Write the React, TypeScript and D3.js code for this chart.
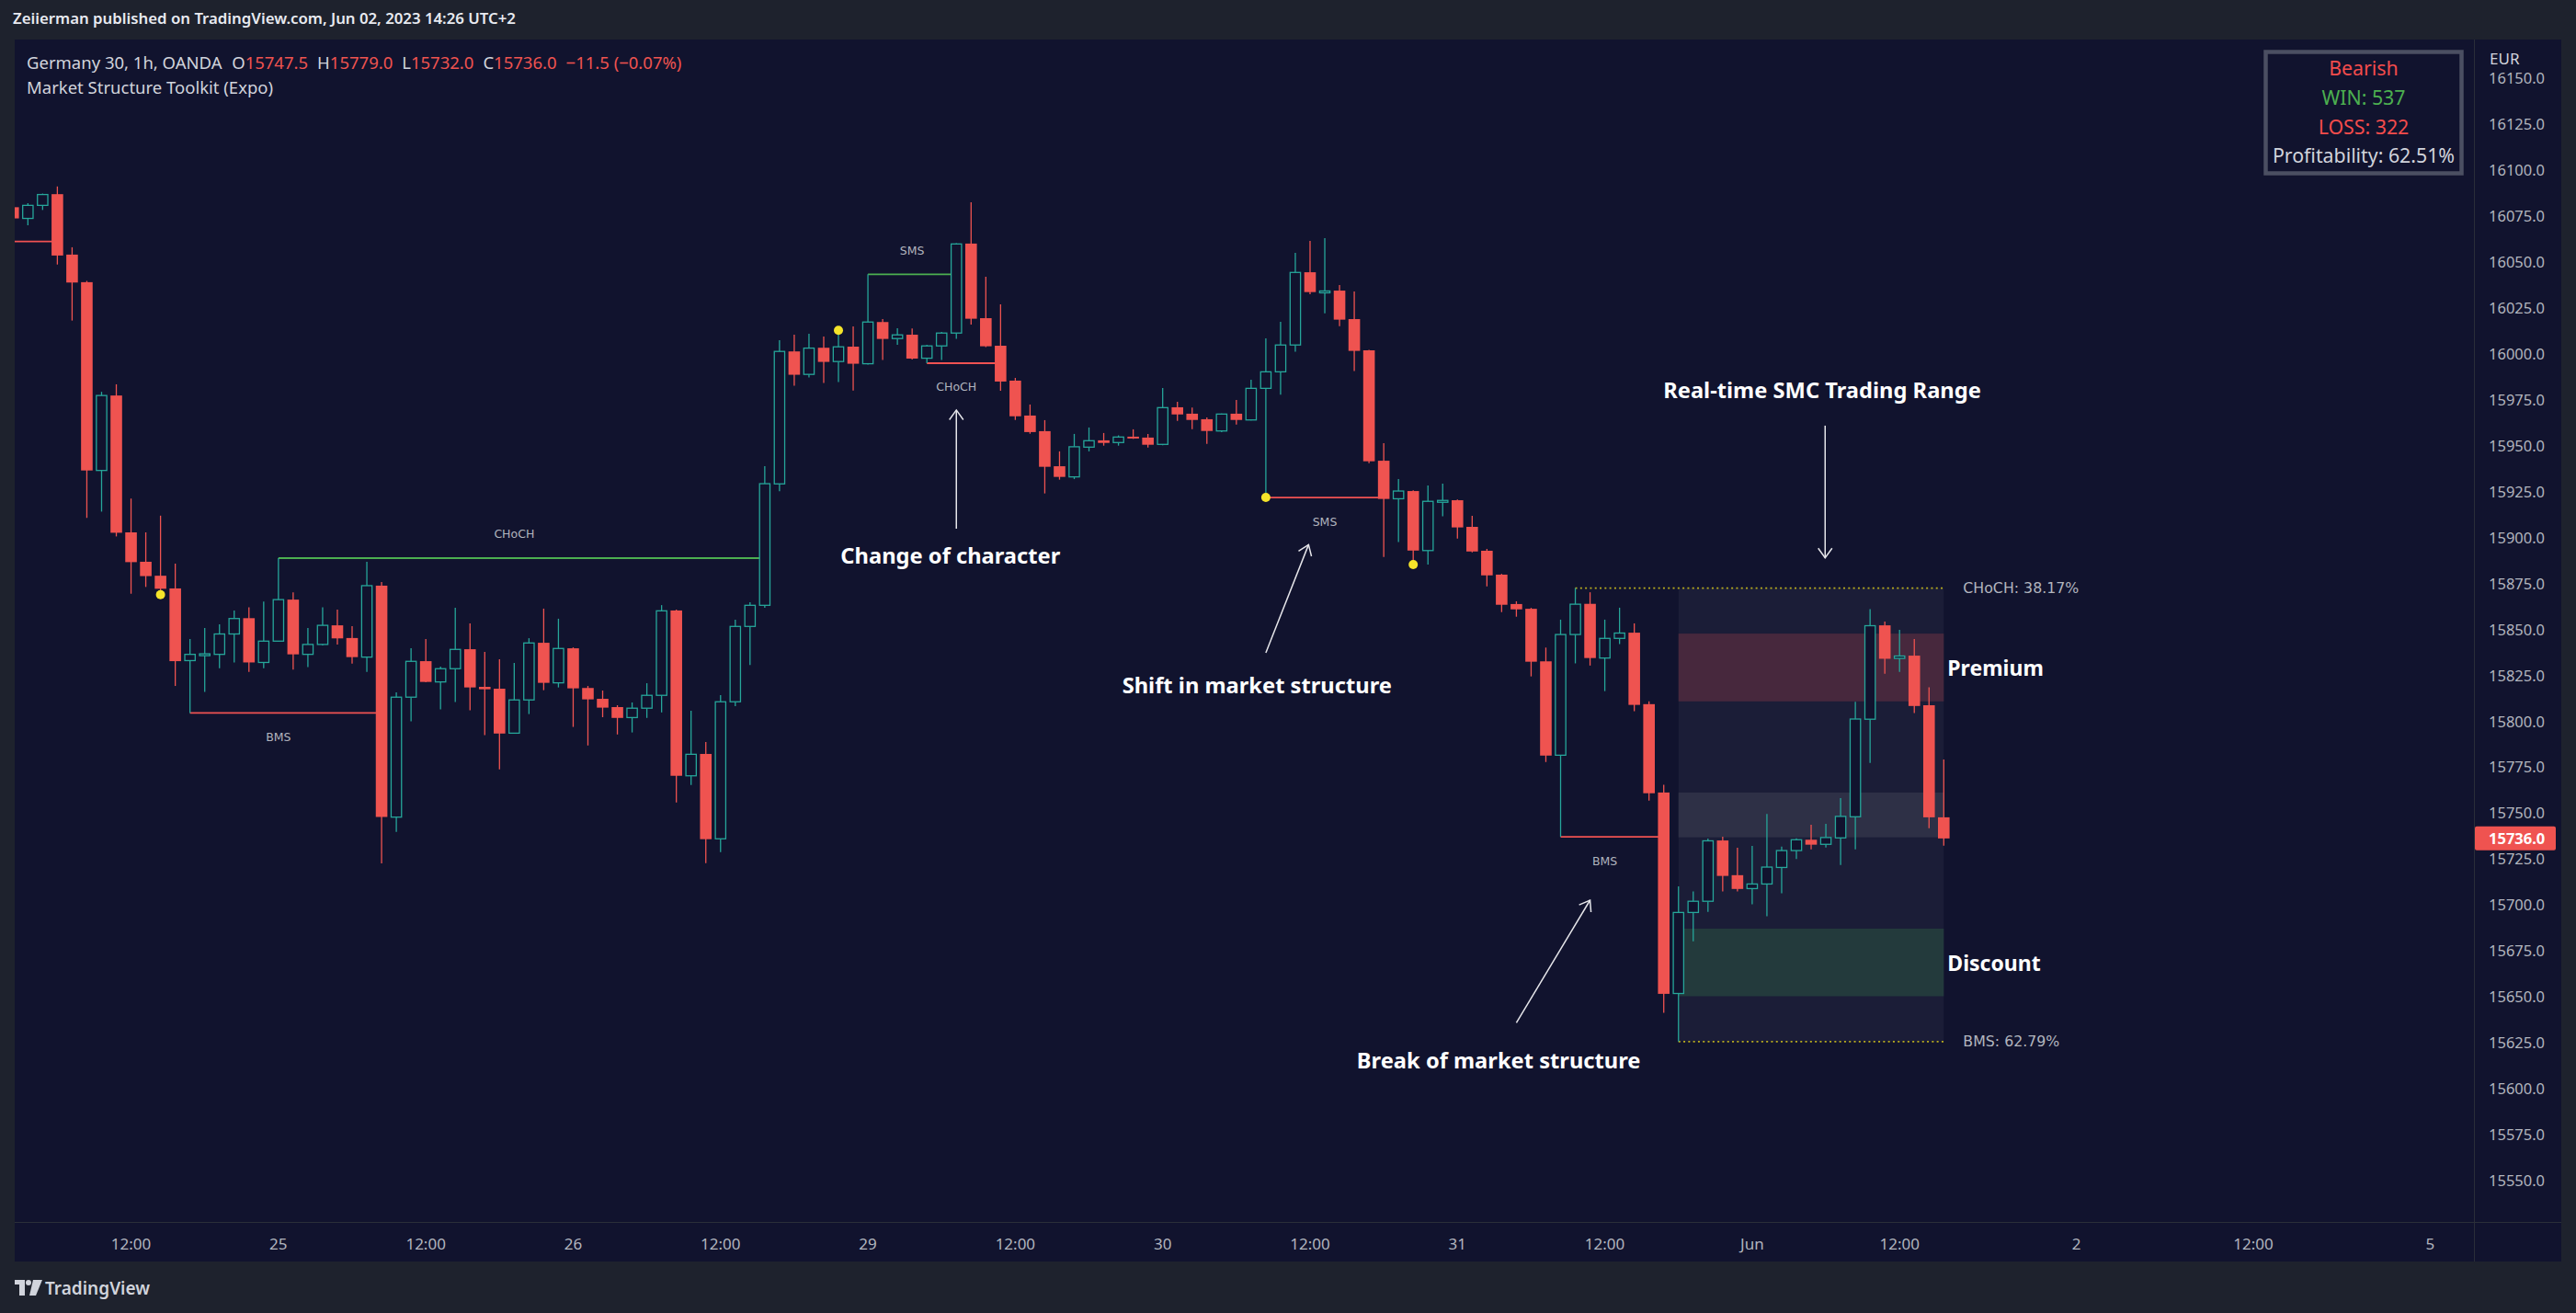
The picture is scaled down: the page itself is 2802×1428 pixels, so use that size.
import * as d3 from "d3";

// OHLC, 1h bars, bar 0 is the clipped one at the left edge
const opens = [
  16079.6, 16073.5, 16080.6, 16086.7, 16053.8, 16038.8, 15936.3, 15977.1, 15902.6, 15886.6,
  15879, 15872.1, 15832.8, 15836, 15836.2, 15847.3, 15855.9, 15831.8, 15843.4, 15866,
  15836.2, 15841.6, 15852, 15845.1, 15834.7, 15873.6, 15747.6, 15812.9, 15832.5, 15821.2,
  15828.4, 15839, 15818.5, 15817.5, 15793.3, 15811.4, 15842.5, 15820.7, 15839.5, 15817.9,
  15812, 15807.5, 15801.8, 15806.9, 15813.9, 15860.1, 15770.1, 15782, 15735.8, 15810.4,
  15851.4, 15862.9, 15929, 16001.1, 15988.6, 16003.1, 15995.6, 16003.7, 15994.4, 16017.1,
  16008.1, 16010.2, 15997.4, 16004.1, 16011.1, 16059.8, 16019.2, 16004.2, 15985.2, 15966.2,
  15957.7, 15938.6, 15932.8, 15949, 15952.7, 15951.5, 15954.7, 15954.2, 15950.5, 15970.7,
  15967.2, 15964.2, 15957.8, 15967.2, 15963.8, 15981, 15990, 16004.6, 16044.2, 16033.4,
  16034.2, 16018.7, 16001.7, 15941.6, 15920.9, 15925.1, 15892.7, 15919.5, 15920.1, 15905.6,
  15892.6, 15879.6, 15863.6, 15861, 15832.4, 15781.3, 15847, 15863.7, 15834.2, 15844.9,
  15848, 15809.1, 15761, 15651.6, 15695.7, 15701.8, 15734.9, 15716, 15708.7, 15711.2,
  15720.2, 15729.4, 15735.3, 15732.8, 15736.3, 15747.8, 15800.9, 15852, 15834, 15835.5,
  15808.5, 15747.5,
];
const highs = [
  16081, 16081.8, 16087, 16090.9, 16057.8, 16039.5, 15979.1, 15983.2, 15921, 15902.6,
  15911.7, 15885.6, 15844.6, 15850.5, 15852.5, 15860.1, 15861.8, 15865, 15888.6, 15869.9,
  15850.5, 15861.8, 15860.6, 15851.5, 15886.6, 15875.6, 15815.5, 15839.5, 15844.5, 15829.5,
  15861.6, 15853.1, 15837.5, 15833.5, 15831.5, 15845, 15861.1, 15855.6, 15840, 15819,
  15816.5, 15808.5, 15810, 15820.5, 15863, 15860.5, 15805.5, 15788.5, 15814, 15855.1,
  15864.6, 15938.6, 16007.2, 16010.2, 16010.7, 16009.2, 16012.6, 16014.7, 16043.1, 16018.7,
  16013.7, 16013.6, 16004.7, 16011.7, 16060, 16082.3, 16041.7, 16026.7, 15986.7, 15972.2,
  15963.7, 15946.7, 15956.2, 15959.7, 15956.7, 15955.4, 15958.7, 15956.2, 15981.2, 15973.7,
  15970.5, 15965.2, 15967.3, 15974.7, 15985.7, 16008.2, 16017.2, 16054.8, 16061.3, 16062.8,
  16037.2, 16033.7, 16002, 15951.2, 15931.6, 15925.5, 15928.1, 15929.1, 15920.5, 15911.6,
  15893.6, 15880, 15865.1, 15861.5, 15839.9, 15855.1, 15872.3, 15870, 15855.1, 15861.6,
  15853.1, 15810.6, 15765.2, 15709.9, 15707.2, 15735.9, 15736.9, 15730.9, 15731.9, 15749.3,
  15731.5, 15736.1, 15743.4, 15744, 15757.9, 15810.4, 15860.8, 15854.1, 15849.5, 15844.5,
  15818.3, 15779,
];
const lows = [
  16072, 16069.8, 16078.1, 16048.4, 16017.9, 15910.5, 15913.9, 15900.4, 15869.2, 15872.9,
  15868.7, 15819, 15804.3, 15815.8, 15828.6, 15831.8, 15826.6, 15828.6, 15843, 15827.9,
  15829.3, 15841, 15841.6, 15831.1, 15826.6, 15722.4, 15739.6, 15799.7, 15821, 15806.2,
  15810.2, 15805.7, 15792.3, 15773.6, 15793, 15803.7, 15816.7, 15818.2, 15796.7, 15786.6,
  15802, 15792.6, 15793.7, 15801.6, 15804.6, 15755.6, 15765.1, 15722.6, 15728.6, 15808,
  15830.4, 15861.6, 15925, 15982.4, 15986.9, 15983.9, 15984.4, 15979.8, 15994, 15996.4,
  16004.7, 15996.7, 15994.7, 15996.4, 16007.9, 16015.7, 16003.5, 15979.7, 15963.8, 15956.3,
  15923.8, 15931.3, 15931.6, 15946.7, 15949.8, 15949.8, 15953.5, 15948.8, 15950, 15963.3,
  15958.8, 15950.8, 15957.2, 15961.3, 15963.5, 15921.6, 15977.5, 16000.9, 16032.2, 16021.9,
  16014.9, 15990.4, 15940.3, 15889.2, 15897.3, 15885.1, 15885.1, 15911.3, 15899.2, 15891.7,
  15873.2, 15859.2, 15856.7, 15824.2, 15777.6, 15736.9, 15831.3, 15830.1, 15816.2, 15841.8,
  15805.3, 15756.6, 15641.1, 15625.4, 15680, 15696, 15707.2, 15707.2, 15700.1, 15693.7,
  15706.2, 15724.8, 15730.1, 15731.1, 15721.5, 15730.1, 15777.1, 15825.7, 15826.7, 15804.3,
  15741.6, 15732,
];
const closes = [
  16073.5, 16080.6, 16086.5, 16053.3, 16038.6, 15936.3, 15977.1, 15902.4, 15886.4, 15878.8,
  15871.9, 15832.5, 15836.2, 15836.5, 15847.3, 15855.7, 15831.8, 15843.4, 15866, 15836.2,
  15841.6, 15852, 15844.9, 15834.7, 15873.6, 15747.7, 15812.9, 15832.4, 15821.2, 15828.4,
  15838.9, 15818.2, 15817.2, 15793.1, 15811.4, 15842.4, 15820.7, 15839.4, 15817.7, 15811.7,
  15807.2, 15801.6, 15806.9, 15813.9, 15859.9, 15770.1, 15781.8, 15735.6, 15810.4, 15851.4,
  15862.9, 15929.1, 16001.1, 15988.4, 16002.9, 15995.4, 16003.6, 15994.4, 16017.1, 16007.9,
  16010.1, 15997.2, 16004.1, 16011.1, 16059.6, 16018.9, 16003.9, 15984.7, 15965.8, 15957.2,
  15938.3, 15932.8, 15949.2, 15952.5, 15951.3, 15954.5, 15953.7, 15950.3, 15970.5, 15966.8,
  15963.8, 15957.8, 15967, 15963.8, 15981, 15990, 16004.6, 16044.1, 16033.4, 16034,
  16018.4, 16001.4, 15941.3, 15920.8, 15925.1, 15892.7, 15919.5, 15920, 15905.3, 15892.2,
  15879.2, 15863.2, 15860.7, 15832.2, 15781.1, 15847, 15863.5, 15834.2, 15844.9, 15847.8,
  15808.7, 15760.6, 15651.4, 15695.7, 15701.8, 15734.7, 15715.6, 15708.5, 15711.2, 15720.4,
  15729.4, 15735.3, 15732.6, 15736.5, 15748, 15801, 15851.8, 15833.8, 15835.3, 15808.1,
  15747.5, 15736,
];

const priceTicks = d3.range(15550, 16151, 25);
const timeTickIdx = [8, 18, 28, 38, 48, 58, 68, 78, 88, 98, 108, 118, 128, 140, 152, 164];
const timeTickLabels = ["12:00", "25", "12:00", "26", "12:00", "29", "12:00", "30", "12:00", "31", "12:00", "Jun", "12:00", "2", "12:00", "5"];

// market structure breaks: level, pivot bar, break bar
const structLevels = [16060.9, 15804.3, 15888.6, 16043.1, 15994.7, 15921.6, 15736.9];
const structFrom = [-1, 12, 18, 58, 62, 85, 105];
const structTo = [3, 25, 51, 64, 67, 93, 112];
const structBull = [false, false, true, true, false, false, false];
const structLabels = ["", "BMS", "CHoCH", "SMS", "CHoCH", "SMS", "BMS"];

const pivotIdx = [10, 56, 85, 95];
const pivotPrice = [15868.7, 16012.6, 15921.6, 15885.1];

// trading range
const rangeTop = 15872.3;
const rangeBottom = 15625.4;
const rangeTopFrom = 106;
const rangeBoxFrom = 113;
const rangeEnd = 131;
const premiumBand = [15847.5, 15810.6];
const equilibriumBand = [15761, 15736.6];
const discountBand = [15686.9, 15650.1];

// annotations [bar, price]
const noteTexts = ["Change of character", "Shift in market structure", "Break of market structure", "Real-time SMC Trading Range"];
const notePos = [[63.6, 15890.1], [84.4, 15819.5], [100.8, 15615.3], [122.75, 15980.4]];
const arrowFrom = [[64, 15904.6], [85, 15837], [102, 15635.7], [122.95, 15960.7]];
const arrowTo = [[64, 15969.2], [87.9, 15895.9], [107, 15702.4], [122.95, 15888.7]];

const W = 2802;
const H = 1428;
const BG = "#11132e";
const OUTER = "#1e222d";
const RED = "#ef5350";
const TEAL = "#26a69a";
const LINE_RED = "#f05252";
const LINE_GREEN = "#4caf50";
const AXIS_TXT = "#b2b5be";
const TXT = "#d1d4dc";

const plotL = 16, plotT = 43, plotR = 2691, plotB = 1329, panelR = 2786, panelB = 1372;

function arrowHead(x1: number, y1: number, x2: number, y2: number) {
  const a = Math.atan2(y2 - y1, x2 - x1);
  const len = 13, spread = 0.62;
  const p1 = [x2 - len * Math.cos(a - spread), y2 - len * Math.sin(a - spread)];
  const p2 = [x2 - len * Math.cos(a + spread), y2 - len * Math.sin(a + spread)];
  return `M${p1[0]},${p1[1]}L${x2},${y2}L${p2[0]},${p2[1]}`;
}

export default function App() {
  const x = d3.scaleLinear().domain([0, 131]).range([14.3, 2114.3]);
  const y = d3.scaleLinear().domain([15550, 16150]).range([1283.5, 84.7]);
  const bw = 12.6;
  const font = "'Noto Sans', sans-serif";
  const labelFont = "'DejaVu Sans', sans-serif";

  const candles = opens.map((o, i) => {
    const c = closes[i], h = highs[i], l = lows[i];
    const bull = c >= o;
    const top = y(Math.max(o, c));
    let bot = y(Math.min(o, c));
    if (bot - top < 2) bot = top + 2;
    const cx = x(i);
    if (bull) {
      return (
        <g key={i} stroke={TEAL} strokeWidth={1.3}>
          <line x1={cx} x2={cx} y1={y(h)} y2={top} />
          <line x1={cx} x2={cx} y1={bot} y2={y(l)} />
          <rect x={cx - bw / 2 + 0.65} y={top} width={bw - 1.3} height={bot - top} fill={BG} />
        </g>
      );
    }
    return (
      <g key={i}>
        <line x1={cx} x2={cx} y1={y(h)} y2={y(l)} stroke={RED} strokeWidth={1.3} />
        <rect x={cx - bw / 2} y={top} width={bw} height={bot - top} fill={RED} />
      </g>
    );
  });

  const zoneL = x(rangeBoxFrom), zoneR = x(rangeEnd);
  const band = (b: number[], fill: string) => (
    <rect x={zoneL} y={y(b[0])} width={zoneR - zoneL} height={y(b[1]) - y(b[0])} fill={fill} />
  );

  return (
    <div style={{ position: "absolute", left: 0, top: 0, width: W, height: H }}>
      <svg width={W} height={H} style={{ display: "block" }} fontFamily={font}>
        <rect width={W} height={H} fill={OUTER} />
        <text x={14} y={19} fill="#e8eaf0" fontSize={16.8} fontWeight={600} dominantBaseline="central">
          Zeiierman published on TradingView.com, Jun 02, 2023 14:26 UTC+2
        </text>
        <rect x={plotL} y={plotT} width={panelR - plotL} height={panelB - plotT} fill={BG} />
        <defs>
          <clipPath id="plotClip">
            <rect x={plotL} y={plotT} width={plotR - plotL} height={plotB - plotT} />
          </clipPath>
          <clipPath id="axisClip">
            <rect x={plotR} y={79} width={panelR - plotR} height={plotB - 79} />
          </clipPath>
        </defs>

        <g clipPath="url(#plotClip)">
          {/* trading range */}
          <rect x={zoneL} y={y(rangeTop)} width={zoneR - zoneL} height={y(rangeBottom) - y(rangeTop)} fill="#1b1d37" />
          {band(premiumBand, "#47283d")}
          {band(equilibriumBand, "#2e3046")}
          {band(discountBand, "#233a3c")}
          <line x1={x(rangeTopFrom)} x2={zoneR} y1={y(rangeTop)} y2={y(rangeTop)} stroke="#b8ac1e" strokeWidth={1.8} strokeDasharray="2 3.3" />
          <line x1={zoneL} x2={zoneR} y1={y(rangeBottom)} y2={y(rangeBottom)} stroke="#b8ac1e" strokeWidth={1.8} strokeDasharray="2 3.3" />

          {/* structure lines */}
          {structLevels.map((lv, k) => {
            const x1 = structFrom[k] < 0 ? plotL : x(structFrom[k]);
            const x2 = x(structTo[k]);
            const col = structBull[k] ? LINE_GREEN : LINE_RED;
            const lx = x(Math.floor((structFrom[k] + structTo[k]) / 2));
            const ly = y(lv) + (structBull[k] ? -26 : 26);
            return (
              <g key={k}>
                <line x1={x1} x2={x2} y1={y(lv)} y2={y(lv)} stroke={col} strokeWidth={1.8} />
                {structLabels[k] && (
                  <text x={lx} y={ly} fill={AXIS_TXT} fontSize={12.5} fontFamily={labelFont} textAnchor="middle" dominantBaseline="central">
                    {structLabels[k]}
                  </text>
                )}
              </g>
            );
          })}

          {candles}

          {pivotIdx.map((p, k) => (
            <circle key={k} cx={x(p)} cy={y(pivotPrice[k])} r={5} fill="#f5e42a" />
          ))}

          {/* range labels */}
          <text x={zoneR + 21} y={y(rangeTop)} fill={AXIS_TXT} fontSize={15.8} fontFamily={labelFont} dominantBaseline="central">CHoCH: 38.17%</text>
          <text x={zoneR + 21} y={y(rangeBottom)} fill={AXIS_TXT} fontSize={15.8} fontFamily={labelFont} dominantBaseline="central">BMS: 62.79%</text>
          <text x={zoneR + 4} y={y((premiumBand[0] + premiumBand[1]) / 2)} fill="#ffffff" fontSize={23} fontWeight={700} dominantBaseline="central">Premium</text>
          <text x={zoneR + 4} y={y((discountBand[0] + discountBand[1]) / 2)} fill="#ffffff" fontSize={23} fontWeight={700} dominantBaseline="central">Discount</text>

          {/* annotations */}
          {noteTexts.map((t, k) => {
            const [ax1, ay1] = [x(arrowFrom[k][0]), y(arrowFrom[k][1])];
            const [ax2, ay2] = [x(arrowTo[k][0]), y(arrowTo[k][1])];
            return (
              <g key={k}>
                <text x={x(notePos[k][0])} y={y(notePos[k][1])} fill="#ffffff" fontSize={23.7} fontWeight={700} textAnchor="middle" dominantBaseline="central">{t}</text>
                <line x1={ax1} y1={ay1} x2={ax2} y2={ay2} stroke="#e6e6ea" strokeWidth={1.5} />
                <path d={arrowHead(ax1, ay1, ax2, ay2)} stroke="#e6e6ea" strokeWidth={1.5} fill="none" />
              </g>
            );
          })}
        </g>

        {/* axes */}
        <line x1={plotR + 0.5} x2={plotR + 0.5} y1={plotT} y2={panelB} stroke="#2a2e39" strokeWidth={1} />
        <line x1={plotL} x2={panelR} y1={plotB + 0.5} y2={plotB + 0.5} stroke="#2a2e39" strokeWidth={1} />
        <text x={2708} y={63} fill={TXT} fontSize={17} dominantBaseline="central">EUR</text>
        <g clipPath="url(#axisClip)">
          {priceTicks.map((p) => (
            <text key={p} x={2707} y={y(p)} fill={AXIS_TXT} fontSize={16.5} dominantBaseline="central">
              {d3.format(".1f")(p)}
            </text>
          ))}
        </g>
        <rect x={plotR + 1} y={y(closes[131]) - 13} width={88} height={26} rx={2} fill={RED} />
        <text x={2707} y={y(closes[131])} fill="#ffffff" fontSize={16.5} fontWeight={700} dominantBaseline="central">
          {d3.format(".1f")(closes[131])}
        </text>
        {timeTickIdx.map((t, k) => (
          <text key={k} x={x(t)} y={1352} fill={AXIS_TXT} fontSize={17} textAnchor="middle" dominantBaseline="central">
            {timeTickLabels[k]}
          </text>
        ))}

        {/* legend */}
        <text x={29} y={67} fontSize={18.5} dominantBaseline="central" fill={TXT}>
          <tspan>Germany 30, 1h, OANDA</tspan>
          <tspan dx={11}>O</tspan><tspan fill={RED}>{opens[131].toFixed(1)}</tspan>
          <tspan dx={10}>H</tspan><tspan fill={RED}>{highs[131].toFixed(1)}</tspan>
          <tspan dx={10}>L</tspan><tspan fill={RED}>{lows[131].toFixed(1)}</tspan>
          <tspan dx={10}>C</tspan><tspan fill={RED}>{closes[131].toFixed(1)}</tspan>
          <tspan dx={10} fill={RED}>−11.5 (−0.07%)</tspan>
        </text>
        <text x={29} y={94} fontSize={18.5} dominantBaseline="central" fill={TXT}>Market Structure Toolkit (Expo)</text>

        {/* stats table */}
        <rect x={2464.5} y={56.5} width={213} height={132} fill={BG} stroke="#4b4f62" strokeWidth={4.5} />
        <g fontSize={21.3} textAnchor="middle" dominantBaseline="central">
          <text x={2571} y={73} fill="#f44c4c">Bearish</text>
          <text x={2571} y={105.5} fill="#4caf50">WIN: 537</text>
          <text x={2571} y={137} fill="#f44c4c">LOSS: 322</text>
          <text x={2571} y={168} fill={TXT}>Profitability: 62.51%</text>
        </g>

        {/* footer logo */}
        <g fill="#d1d4dc">
          <rect x={16} y={1392} width={11} height={5} />
          <rect x={21} y={1392} width={6} height={17} />
          <circle cx={31} cy={1395} r={3} />
          <path d="M36,1392 L46,1392 L39,1409 L32,1409 Z" />
        </g>
        <text x={49} y={1401} fill="#d1d4dc" fontSize={19} fontWeight={600} dominantBaseline="central">TradingView</text>
      </svg>
    </div>
  );
}
